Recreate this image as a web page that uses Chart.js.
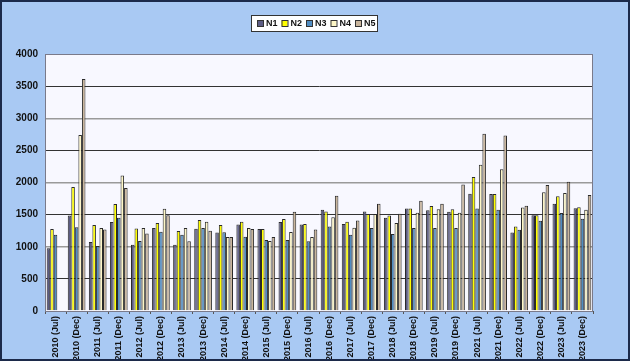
<!DOCTYPE html>
<html>
<head>
<meta charset="utf-8">
<script src="https://cdn.jsdelivr.net/npm/chart.js@4"></script>
<style>
  html, body { margin: 0; padding: 0; background: #a9c9f3; }
  #wrap { width: 630px; height: 361px; }
</style>
</head>
<body>
<div id="wrap"><canvas id="canvas1" width="630" height="361"></canvas></div>
<script>
// categories (no 2020 in the source)
const labelPeriods = ['2010 (Jul)', '2010 (Dec)', '2011 (Jul)', '2011 (Dec)', '2012 (Jul)', '2012 (Dec)',
    '2013 (Jul)', '2013 (Dec)', '2014 (Jul)', '2014 (Dec)', '2015 (Jul)', '2015 (Dec)',
    '2016 (Jul)', '2016 (Dec)', '2017 (Jul)', '2017 (Dec)', '2018 (Jul)', '2018 (Dec)',
    '2019 (Jul)', '2019 (Dec)', '2021 (Jul)', '2021 (Dec)', '2022 (Jul)', '2022 (Dec)',
    '2023 (Jul)', '2023 (Dec)'];

const seriesNames = ['N1', 'N2', 'N3', 'N4', 'N5'];

const dataN1 = [975, 1485, 1075, 1385, 1030, 1290, 1030, 1280, 1220, 1345, 1275, 1385, 1345,
    1575, 1355, 1550, 1450, 1595, 1570, 1545, 1825, 1820, 1220, 1490, 1670, 1600];
const dataN2 = [1275, 1930, 1340, 1665, 1285, 1370, 1245, 1415, 1340, 1390, 1275, 1430, 1355,
    1550, 1390, 1510, 1485, 1595, 1635, 1585, 2085, 1820, 1315, 1490, 1785, 1615];
const dataN3 = [1185, 1305, 1010, 1450, 1090, 1235, 1185, 1290, 1225, 1155, 1105, 1105, 1085,
    1315, 1185, 1290, 1200, 1290, 1290, 1290, 1595, 1575, 1265, 1405, 1525, 1435];
const dataN4 = [null, 2740, 1290, 2110, 1290, 1590, 1290, 1390, 1150, 1290, 1090, 1230, 1150,
    1460, 1295, 1510, 1370, 1530, 1585, 1530, 2275, 2205, 1610, 1850, 1835, 1575];
const dataN5 = [null, 3610, 1270, 1915, 1205, 1490, 1085, 1250, 1150, 1275, 1150, 1545, 1270,
    1795, 1410, 1670, 1515, 1715, 1670, 1970, 2760, 2730, 1640, 1960, 2010, 1805];

const yTicks = [0, 500, 1000, 1500, 2000, 2500, 3000, 3500, 4000];

const fillColors = ['#5c5c84', '#ffff00', '#4f8cc2', '#fdf6c6', '#c9b59c'];

const seriesData = [dataN1, dataN2, dataN3, dataN4, dataN5];

let datasets = [];
for (let i = 0; i < seriesNames.length; i++) {
    datasets.push({
        label: seriesNames[i],
        data: seriesData[i],
        backgroundColor: fillColors[i],
        borderColor: '#2a2a2a',
        borderWidth: 1,
        barPercentage: 1.0,
        categoryPercentage: 0.84
    });
}

// background, plot area and outer frame, plus the boxed legend on top
const framePlugin = {
    id: 'frame',
    beforeDraw(chart) {
        const c = chart.ctx;
        const a = chart.chartArea;
        c.save();
        c.fillStyle = '#a9c9f3';
        c.fillRect(0, 0, chart.width, chart.height);
        c.fillStyle = '#f8f8ff';
        c.fillRect(a.left, a.top, a.right - a.left, a.bottom - a.top);
        c.restore();
    },
    afterDraw(chart) {
        const c = chart.ctx;
        const a = chart.chartArea;
        c.save();
        c.strokeStyle = '#7a7a8a';
        c.lineWidth = 1;
        c.strokeRect(a.left + 0.5, a.top + 0.5, a.right - a.left - 1, a.bottom - a.top);
        c.strokeStyle = '#1c2a4a';
        c.lineWidth = 2;
        c.strokeRect(1, 1, chart.width - 2, chart.height - 2);

        // legend box
        const lx = 251, ly = 15, lw = 126, lh = 16;
        c.fillStyle = '#ffffff';
        c.fillRect(lx, ly, lw, lh);
        c.strokeStyle = '#333333';
        c.lineWidth = 1;
        c.strokeRect(lx + 0.5, ly + 0.5, lw, lh);
        c.font = 'bold 9px "Liberation Sans", Arial, sans-serif';
        c.textBaseline = 'middle';
        let x = lx + 6;
        chart.data.datasets.forEach(function (ds) {
            c.fillStyle = ds.backgroundColor;
            c.fillRect(x, ly + 5, 6, 6);
            c.strokeStyle = '#333';
            c.strokeRect(x + 0.5, ly + 5.5, 6, 6);
            c.fillStyle = '#111';
            c.fillText(ds.label, x + 9, ly + 9);
            x += 24.5;
        });
        c.restore();
    }
};

const ctx = document.getElementById('canvas1');
const chartMain = new Chart(ctx, {
    type: 'bar',
    data: {
        labels: labelPeriods,
        datasets: datasets
    },
    plugins: [framePlugin],
    options: {
        responsive: false,
        animation: false,
        layout: { padding: { top: 54, right: 37, left: 0, bottom: 0 } },
        plugins: {
            legend: { display: false },
            tooltip: { enabled: false }
        },
        scales: {
            x: {
                afterFit: function (scale) { scale.height = 50; },
                grid: {
                    drawOnChartArea: false,
                    offset: true,
                    tickLength: 3,
                    color: '#555'
                },
                border: { color: '#555' },
                ticks: {
                    autoSkip: false,
                    minRotation: 90,
                    maxRotation: 90,
                    padding: 2,
                    color: '#111',
                    font: { family: '"Liberation Sans", Arial, sans-serif', size: 9, weight: 'bold' }
                }
            },
            y: {
                min: 0,
                max: 4000,
                afterFit: function (scale) { scale.width = 45; },
                afterBuildTicks: function (scale) {
                    scale.ticks = yTicks.map(v => ({ value: v }));
                },
                grid: {
                    tickLength: 0,
                    color: function (c) {
                        if (c.tick.value === 0 || c.tick.value === 4000) return 'rgba(0,0,0,0)';
                        return c.tick.value % 1000 === 0 ? '#9a9a9a' : '#333333';
                    },
                    lineWidth: function (c) {
                        return c.tick.value % 1000 === 0 ? 1.5 : 1;
                    }
                },
                border: { color: '#555' },
                ticks: {
                    padding: 7,
                    color: '#111',
                    callback: function (v) { return String(v); },
                    font: { family: '"Liberation Sans", Arial, sans-serif', size: 10, weight: 'bold' }
                }
            }
        }
    }
});
</script>
</body>
</html>
